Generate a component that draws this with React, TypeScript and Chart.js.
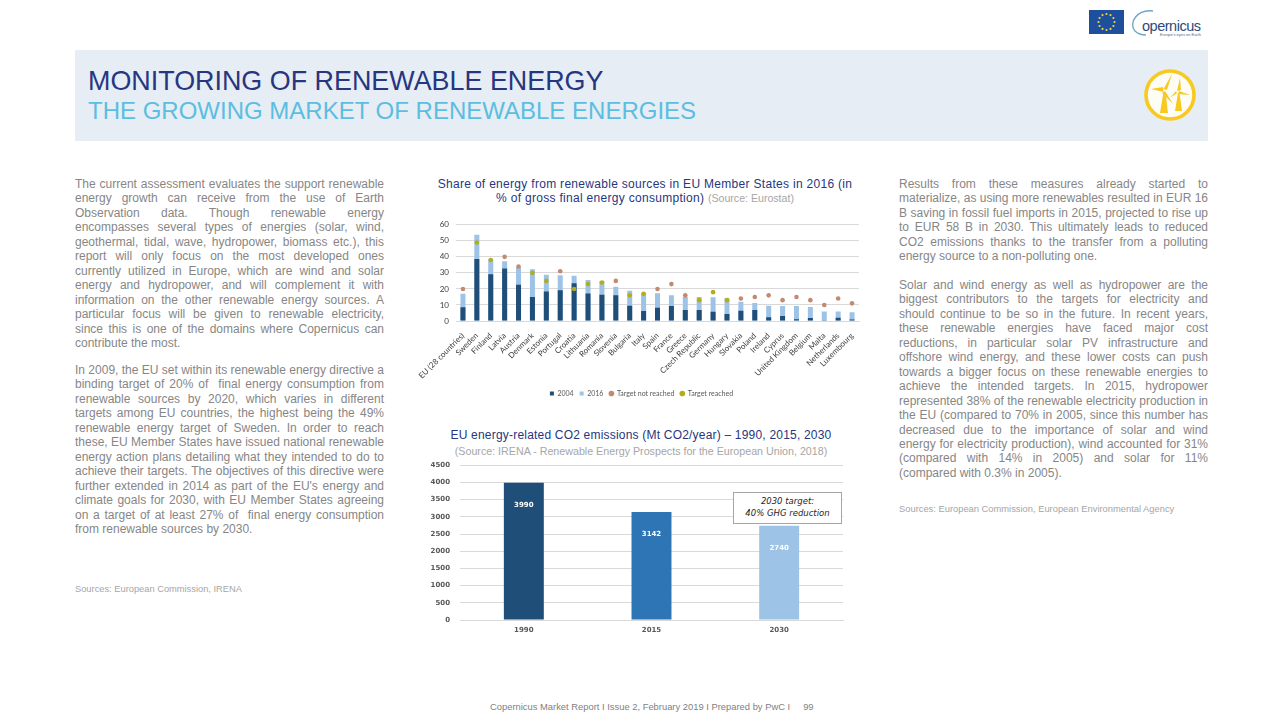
import React, { useEffect, useRef } from "react";
import { Chart, registerables } from "chart.js";

Chart.register(...registerables);

const countries = ["EU (28 countries)", "Sweden", "Finland", "Latvia", "Austria", "Denmark", "Estonia", "Portugal", "Croatia", "Lithuania", "Romania", "Slovenia", "Bulgaria", "Italy", "Spain", "France", "Greece", "Czech Republic", "Germany", "Hungary", "Slovakia", "Poland", "Ireland", "Cyprus", "United Kingdom", "Belgium", "Malta", "Netherlands", "Luxembourg"];
const share2004 = [8.5, 38.7, 29.2, 32.8, 22.6, 14.9, 18.4, 19.2, 23.5, 17.2, 16.3, 16.1, 9.5, 6.3, 8.2, 9.4, 6.9, 6.8, 5.8, 4.4, 6.4, 6.9, 2.4, 3.1, 1.1, 1.9, 0.1, 2, 0.9];
const share2016 = [17, 53.8, 38.7, 37.2, 33.5, 32.2, 28.8, 28.5, 28.3, 25.6, 25, 21.3, 18.8, 17.4, 17.3, 16, 15.2, 14.9, 14.8, 14.2, 12, 11.3, 9.5, 9.3, 9.3, 8.7, 6, 6, 5.4];
const targetNotReached = [20, null, null, 40, 34, null, null, 31, null, null, null, 25, null, null, 20, 23, 16, null, null, null, 14, 15, 16, 13, 15, 13, 10, 14, 11];
const targetReached = [null, 49, 38, null, null, 30, 25, null, 20, 23, 24, null, 16, 17, null, null, null, 13, 18, 13, null, null, null, null, null, null, null, null, null];
const co2Years = ["1990", "2015", "2030"];
const co2Values = [3990, 3142, 2740];
const co2Colors = ["#1F4E79", "#2E75B6", "#9DC3E6"];

const leftP1 = ["The current assessment evaluates the support renewable", "energy growth can receive from the use of Earth", "Observation data. Though renewable energy", "encompasses several types of energies (solar, wind,", "geothermal, tidal, wave, hydropower, biomass etc.), this", "report will only focus on the most developed ones", "currently utilized in Europe, which are wind and solar", "energy and hydropower, and will complement it with", "information on the other renewable energy sources. A", "particular focus will be given to renewable electricity,", "since this is one of the domains where Copernicus can", "contribute the most."];
const leftP2 = ["In 2009, the EU set within its renewable energy directive a", "binding target of 20% of  final energy consumption from", "renewable sources by 2020, which varies in different", "targets among EU countries, the highest being the 49%", "renewable energy target of Sweden. In order to reach", "these, EU Member States have issued national renewable", "energy action plans detailing what they intended to do to", "achieve their targets. The objectives of this directive were", "further extended in 2014 as part of the EU's energy and", "climate goals for 2030, with EU Member States agreeing", "on a target of at least 27% of  final energy consumption", "from renewable sources by 2030."];
const rightP1 = ["Results from these measures already started to", "materialize, as using more renewables resulted in EUR 16", "B saving in fossil fuel imports in 2015, projected to rise up", "to EUR 58 B in 2030. This ultimately leads to reduced", "CO2 emissions thanks to the transfer from a polluting", "energy source to a non-polluting one."];
const rightP2 = ["Solar and wind energy as well as hydropower are the", "biggest contributors to the targets for electricity and", "should continue to be so in the future. In recent years,", "these renewable energies have faced major cost", "reductions, in particular solar PV infrastructure and", "offshore wind energy, and these lower costs can push", "towards a bigger focus on these renewable energies to", "achieve the intended targets. In 2015, hydropower", "represented 38% of the renewable electricity production in", "the EU (compared to 70% in 2005, since this number has", "decreased due to the importance of solar and wind", "energy for electricity production), wind accounted for 31%", "(compared with 14% in 2005) and solar for 11%", "(compared with 0.3% in 2005)."];

const SANS = '"Liberation Sans", Arial, sans-serif';

function Para({ lines, left, top }: { lines: string[]; left: number; top: number }) {
  return (
    <div style={{ position: "absolute", left, top, width: 309, fontFamily: SANS, fontSize: 12, lineHeight: "14.45px", color: "#868686" }}>
      {lines.map((l, i) => (
        <div key={i} style={{ whiteSpace: "pre-wrap", textAlign: i === lines.length - 1 ? "left" : "justify", textAlignLast: i === lines.length - 1 ? "left" : "justify" }}>{l}</div>
      ))}
    </div>
  );
}

function Abs({ left, top, width, size, color, align, children, extra }: any) {
  return (
    <div style={{ position: "absolute", left, top, width, fontFamily: SANS, fontSize: size, color, textAlign: align || "left", whiteSpace: "nowrap", lineHeight: 1.15, ...extra }}>{children}</div>
  );
}

function Logos() {
  const stars = Array.from({ length: 12 }, (_, i) => i);
  return (
    <svg style={{ position: "absolute", left: 0, top: 0 }} width={1280} height={150}>
      <rect x={1089} y={10} width={35} height={24} fill="#1D4F9C" />
      {stars.map((i) => (
        <circle key={i} cx={1106.5 + 8 * Math.cos((i * Math.PI) / 6)} cy={22 + 8 * Math.sin((i * Math.PI) / 6)} r={1.1} fill="#F2D33A" />
      ))}
      <path d="M1153 11 C1137 9 1128 23 1135 31 C1138 34 1142 35 1146 35" fill="none" stroke="#6FA6C9" strokeWidth={1.4} />
      <text x={1142} y={31} fontFamily={SANS} fontSize={14.5} fill="#2C4B7C" textLength={59}>opernicus</text>
      <text x={1160} y={35.5} fontFamily={SANS} fontSize={4} fill="#4A6A92" textLength={41}>Europe's eyes on Earth</text>
      <circle cx={1170} cy={95} r={24} fill="#FDFDF6" stroke="#F8C91E" strokeWidth={3.6} />
      <g fill="#F8C91E">
        <path d="M1163.5 92 L1165.5 92 L1168 113 L1160 113 Z" />
        <path d="M1163.5 92 L1151 89 L1163 87 Z" />
        <path d="M1163.5 89 L1172 74 L1167 90 Z" />
        <path d="M1165 91 L1173 104 L1162 93 Z" />
        <path d="M1178 93 L1179.5 93 L1182 111 L1175 111 Z" />
        <path d="M1177 91 L1180 78 L1181 90 Z" />
        <path d="M1179 91 L1190 95 L1178 94 Z" />
        <path d="M1177 93 L1170 98 L1176 91 Z" />
      </g>
    </svg>
  );
}

const barLabelPlugin = {
  id: "barLabels",
  afterDatasetsDraw(chart: any) {
    const { ctx } = chart;
    ctx.save();
    ctx.fillStyle = "#FFFFFF";
    ctx.font = '700 7px "DejaVu Sans"';
    ctx.textAlign = "center";
    ctx.textBaseline = "middle";
    chart.getDatasetMeta(0).data.forEach((el: any, i: number) => {
      ctx.fillText(String(co2Values[i]), el.x, el.y + 22);
    });
    ctx.restore();
  },
};

const legendShiftPlugin = {
  id: "legendShift",
  afterLayout(chart: any) {
    chart.legend.left += 12;
    chart.legend.right += 12;
  },
};

export default function App() {
  const shareRef = useRef<HTMLCanvasElement>(null);
  const co2Ref = useRef<HTMLCanvasElement>(null);

  useEffect(() => {
    const share = new Chart(shareRef.current!, {
      type: "bar",
      data: {
        labels: countries,
        datasets: [
          { label: "2004", data: share2004, backgroundColor: "#1F4E79", borderWidth: 0, pointStyle: "rect", order: 1 },
          { label: "2016", data: share2016, backgroundColor: "#9DC3E6", borderWidth: 0, pointStyle: "rect", order: 2 },
          { type: "line", label: "Target not reached", data: targetNotReached, showLine: false, pointRadius: 2.3, pointBackgroundColor: "#C48A70", pointBorderColor: "#C48A70", backgroundColor: "#C48A70", borderColor: "#C48A70", pointBorderWidth: 0, pointStyle: "circle", order: 0 },
          { type: "line", label: "Target reached", data: targetReached, showLine: false, pointRadius: 2.3, pointBackgroundColor: "#B2AD1C", pointBorderColor: "#B2AD1C", backgroundColor: "#B2AD1C", borderColor: "#B2AD1C", pointBorderWidth: 0, pointStyle: "circle", order: -1 },
        ] as any,
      },
      options: {
        animation: false,
        responsive: false,
        layout: { padding: { top: 7, right: 7, left: 0, bottom: 0 } },
        datasets: { bar: { barPercentage: 0.36, categoryPercentage: 1 } } as any,
        plugins: {
          title: { display: false },
          tooltip: { enabled: false },
          legend: {
            position: "bottom",
            labels: {
              usePointStyle: true,
              boxWidth: 4,
              boxHeight: 4,
              padding: 6,
              color: "#595959",
              font: { family: "Lato", size: 7 },
              sort: (a: any, b: any) => a.datasetIndex - b.datasetIndex,
            },
          },
        },
        scales: {
          x: {
            stacked: true,
            grid: { display: false },
            border: { color: "#D9D9D9" },
            ticks: { autoSkip: false, minRotation: 45, maxRotation: 45, padding: 2, color: "#404040", font: { family: "Lato", size: 8 } },
            afterFit: (s: any) => { s.height = 63; },
          },
          y: {
            min: 0,
            max: 60,
            stacked: false,
            grid: { color: "#D9D9D9", drawTicks: false },
            border: { display: false },
            ticks: { stepSize: 10, padding: 7, color: "#404040", font: { family: "Lato", size: 8 } },
            afterFit: (s: any) => { s.width = 56; },
          },
        },
      },
      plugins: [legendShiftPlugin],
    });

    const co2 = new Chart(co2Ref.current!, {
      type: "bar",
      data: {
        labels: co2Years,
        datasets: [{ label: "CO2", data: co2Values, backgroundColor: co2Colors, borderWidth: 0 }],
      },
      options: {
        animation: false,
        responsive: false,
        layout: { padding: { top: 1, right: 17 } },
        datasets: { bar: { barPercentage: 0.313, categoryPercentage: 1 } } as any,
        plugins: { legend: { display: false }, tooltip: { enabled: false } },
        scales: {
          x: {
            grid: { display: false, drawTicks: false },
            border: { color: "#D9D9D9" },
            ticks: { padding: 6, color: "#595959", font: { family: "DejaVu Sans", size: 7, weight: "bold" } },
            afterFit: (s: any) => { s.height = 18; },
          },
          y: {
            min: 0,
            max: 4500,
            grid: { color: "#D9D9D9", drawTicks: false },
            border: { display: false },
            ticks: { stepSize: 500, padding: 10, color: "#595959", font: { family: "DejaVu Sans", size: 7, weight: "bold" }, callback: (v: any) => String(v) },
            afterFit: (s: any) => { s.width = 40; },
          },
        },
      },
      plugins: [barLabelPlugin],
    });

    return () => {
      share.destroy();
      co2.destroy();
    };
  }, []);

  return (
    <div style={{ position: "absolute", left: 0, top: 0, width: 1280, height: 720, background: "#FFFFFF", overflow: "hidden" }}>
      <div style={{ position: "absolute", left: 75, top: 50, width: 1133, height: 91, background: "#E6EDF5" }} />
      <Logos />
      <Abs left={88} top={66} size={26.9} color="#27367F">MONITORING OF RENEWABLE ENERGY</Abs>
      <Abs left={88} top={97} size={24} color="#5BBEE0">THE GROWING MARKET OF RENEWABLE ENERGIES</Abs>

      <Para lines={leftP1} left={75} top={177} />
      <Para lines={leftP2} left={75} top={363} />
      <Abs left={75} top={584} size={9.3} color="#A6A6A6">Sources: European Commission, IRENA</Abs>

      <Para lines={rightP1} left={899} top={177} />
      <Para lines={rightP2} left={899} top={278} />
      <Abs left={899} top={504} size={9.35} color="#A6A6A6">Sources: European Commission, European Environmental Agency</Abs>

      <Abs left={425} top={178} width={440} size={12} color="#27367F" align="center" extra={{ letterSpacing: "0.3px" }}>Share of energy from renewable sources in EU Member States in 2016 (in</Abs>
      <Abs left={425} top={192} width={440} size={12} color="#27367F" align="center" extra={{ letterSpacing: "0.3px" }}>% of gross final energy consumption) <span style={{ color: "#A6A6A6", fontSize: 10.6, letterSpacing: 0 }}>(Source: Eurostat)</span></Abs>
      <canvas ref={shareRef} width={466} height={194} style={{ position: "absolute", left: 400, top: 213, display: "block" }} />

      <Abs left={420} top={429} width={442} size={12} color="#27367F" align="center" extra={{ letterSpacing: "0.2px" }}>EU energy-related CO2 emissions (Mt CO2/year) – 1990, 2015, 2030</Abs>
      <Abs left={420} top={445} width={442} size={10.7} color="#A6A6A6" align="center">(Source: IRENA - Renewable Energy Prospects for the European Union, 2018)</Abs>
      <canvas ref={co2Ref} width={440} height={187} style={{ position: "absolute", left: 420, top: 451, display: "block" }} />
      <div style={{ position: "absolute", left: 733, top: 492, width: 107, height: 27, border: "1px solid #A6A6A6", background: "#FFFFFF", fontFamily: '"DejaVu Sans"', fontStyle: "italic", fontSize: 8.5, lineHeight: "11.5px", color: "#262626", textAlign: "center", paddingTop: 3, boxSizing: "content-box", whiteSpace: "nowrap" }}>
        <div>2030 target:</div>
        <div>40% GHG reduction</div>
      </div>

      <Abs left={490} top={702} size={9.4} color="#7F7F7F" extra={{ whiteSpace: "pre" }}>{"Copernicus Market Report I Issue 2, February 2019 I Prepared by PwC I     99"}</Abs>
    </div>
  );
}
